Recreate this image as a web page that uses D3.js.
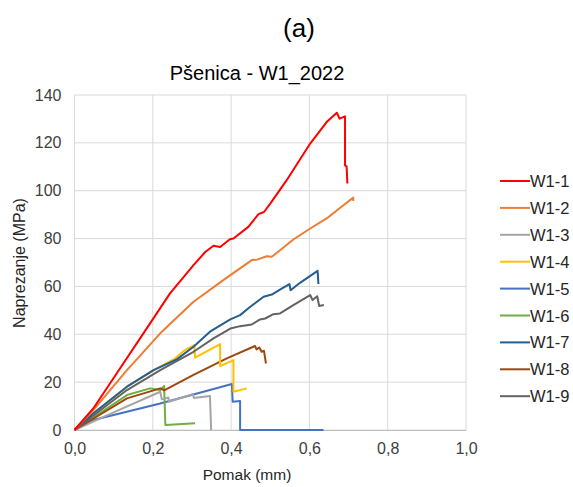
<!DOCTYPE html>
<html><head><meta charset="utf-8">
<script src="https://cdn.jsdelivr.net/npm/d3@7"></script>
<style>body{margin:0;background:#fff}svg{display:block}text{font-family:"Liberation Sans",Arial,sans-serif}</style>
</head><body><svg id="c" width="573" height="487"></svg>
<script>
const xTicks = [0,0.2,0.4,0.6,0.8,1.0];
const yTicks = [0,20,40,60,80,100,120,140];
const seriesNames = ["W1-1","W1-2","W1-3","W1-4","W1-5","W1-6","W1-7","W1-8","W1-9"];
const seriesColors = ["#FF0000","#ED7D31","#A5A5A5","#FFC000","#4472C4","#70AD47","#255E91","#9E480E","#636363"];
const w1_1 = [[0,0],[0.048,9],[0.108,23.7],[0.176,40.4],[0.244,57.1],[0.304,68.9],[0.334,74.4],[0.355,77],[0.372,76.5],[0.397,79.7],[0.406,80],[0.444,84.9],[0.470,90.2],[0.484,91.1],[0.5,94.6],[0.542,104.4],[0.602,119.7],[0.644,128.7],[0.670,132.6],[0.677,130.1],[0.691,131.1],[0.691,110.6],[0.695,110.2],[0.697,103]];
const w1_2 = [[0,0],[0.048,8.3],[0.134,25],[0.219,40.4],[0.304,53.6],[0.389,63.7],[0.453,71],[0.466,71.2],[0.491,72.6],[0.504,72.4],[0.525,75.1],[0.559,79.6],[0.602,84.2],[0.644,88.4],[0.687,93.9],[0.712,97.1],[0.712,95.7]];
const w1_3 = [[0,0],[0.1,7.4],[0.219,16],[0.223,12.8],[0.240,13.6],[0.241,11.8],[0.302,15],[0.305,13.4],[0.346,14.2],[0.349,0]];
const w1_4 = [[0,0],[0.134,18.1],[0.202,25],[0.253,29.5],[0.282,33.4],[0.306,35.5],[0.308,30.2],[0.372,35.9],[0.372,26.7],[0.406,29.2],[0.406,16],[0.44,17.4]];
const w1_5 = [[0,0],[0.048,4.2],[0.219,11.1],[0.402,19.2],[0.404,11.8],[0.423,12.1],[0.423,0],[0.636,0]];
const w1_6 = [[0,0],[0.134,14.6],[0.193,17.4],[0.219,16.7],[0.229,18.4],[0.232,2.1],[0.308,2.8]];
const w1_7 = [[0,0],[0.048,7],[0.134,18.1],[0.202,25],[0.261,29.5],[0.304,34.8],[0.346,41.1],[0.398,46.2],[0.423,48],[0.449,51.5],[0.483,55.7],[0.504,56.6],[0.529,59.1],[0.549,61],[0.552,58.4],[0.576,61.5],[0.621,66.5],[0.623,61]];
const w1_8 = [[0,0],[0.134,13.2],[0.219,17.4],[0.229,16.6],[0.304,23],[0.389,29.9],[0.461,35.1],[0.465,33.7],[0.472,34.5],[0.478,32.7],[0.484,33.1],[0.489,27.8]];
const w1_9 = [[0,0],[0.134,16.7],[0.219,25],[0.304,32.7],[0.355,38.3],[0.398,42.4],[0.423,43.4],[0.453,44.1],[0.474,46.2],[0.487,46.6],[0.508,48.4],[0.525,48.7],[0.559,52.2],[0.602,56.4],[0.608,54.3],[0.62,55.9],[0.625,51.8],[0.637,52.2]];
const seriesData = [w1_1,w1_2,w1_3,w1_4,w1_5,w1_6,w1_7,w1_8,w1_9];

const svg = d3.select("#c");
const x = d3.scaleLinear().domain([0,1]).range([74.5,466]);
const y = d3.scaleLinear().domain([0,140]).range([430,95]);
const FONT = "Liberation Sans, Arial, sans-serif";

// grid
svg.append("g").selectAll("line").data(xTicks).join("line")
  .attr("x1",d=>x(d)).attr("x2",d=>x(d)).attr("y1",y(0)).attr("y2",y(140))
  .attr("stroke","#d9d9d9").attr("stroke-width",1);
svg.append("g").selectAll("line").data(yTicks).join("line")
  .attr("y1",d=>y(d)).attr("y2",d=>y(d)).attr("x1",x(0)).attr("x2",x(1))
  .attr("stroke","#d9d9d9").attr("stroke-width",1);

// axes labels
const xa = svg.append("g").attr("transform",`translate(0,${y(0)})`)
  .call(d3.axisBottom(x).tickValues(xTicks).tickSize(0).tickPadding(13).tickFormat(d=>d3.format(".1f")(d).replace(".",",")));
xa.select(".domain").attr("stroke","#bfbfbf");
xa.selectAll("text").attr("font-size",16).attr("fill","#404040").attr("font-family",FONT);
const ya = svg.append("g").attr("transform",`translate(${x(0)},0)`)
  .call(d3.axisLeft(y).tickValues(yTicks).tickSize(0).tickPadding(13));
ya.select(".domain").remove();
ya.selectAll("text").attr("font-size",16).attr("fill","#404040").attr("font-family",FONT);

// lines
const line = d3.line().x(d=>x(d[0])).y(d=>y(d[1]));
const order = [4,5,2,7,3,8,6,1,0];
order.forEach(i=>{
  svg.append("path").attr("d",line(seriesData[i])).attr("fill","none")
    .attr("stroke",seriesColors[i]).attr("stroke-width",2).attr("stroke-linejoin","round");
});

// titles
svg.append("text").attr("x",299).attr("y",37).attr("text-anchor","middle").attr("font-size",26).attr("fill","#000").text("(a)");
svg.append("text").attr("x",257).attr("y",80).attr("text-anchor","middle").attr("font-size",20).attr("fill","#000").text("Pšenica - W1_2022");
svg.append("text").attr("x",247).attr("y",480).attr("text-anchor","middle").attr("font-size",15.5).attr("fill","#262626").text("Pomak (mm)");
svg.append("text").attr("transform","translate(25,263) rotate(-90)").attr("text-anchor","middle").attr("font-size",16).attr("fill","#262626").text("Naprezanje (MPa)");

// legend
const lg = svg.append("g");
seriesNames.forEach((n,i)=>{
  const yy = 181 + i*26.9;
  lg.append("line").attr("x1",500).attr("x2",530).attr("y1",yy).attr("y2",yy).attr("stroke",seriesColors[i]).attr("stroke-width",2);
  lg.append("text").attr("x",530).attr("y",yy+6).attr("font-size",16.5).attr("fill","#262626").text(n);
});
</script></body></html>
